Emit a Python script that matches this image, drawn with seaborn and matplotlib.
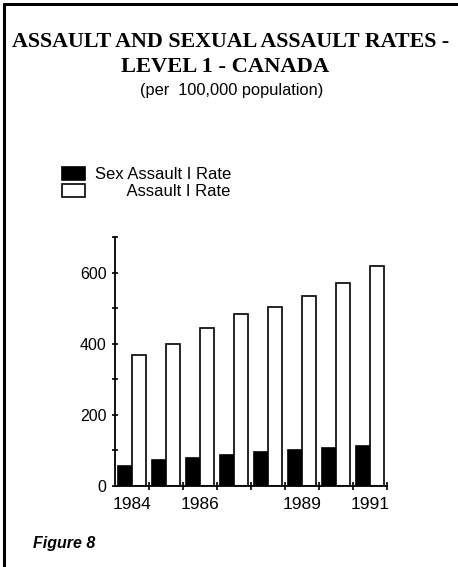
import numpy as np
import pandas as pd
import seaborn as sns
import matplotlib.pyplot as plt
from matplotlib.lines import Line2D
from matplotlib.ticker import MultipleLocator, FixedLocator

# Years and rates per 100,000 population
years = ['1984', '1985', '1986', '1987', '1988', '1989', '1990', '1991']
sex_assault_rate = [57, 72, 80, 87, 95, 102, 106, 113]
assault_rate = [367, 400, 443, 484, 502, 533, 570, 619]
series_names = ['Sex Assault I Rate', 'Assault I Rate']
shown_years = ['1984', '1986', '1989', '1991']

df = pd.DataFrame({
    'year': years * 2,
    'rate': sex_assault_rate + assault_rate,
    'series': [series_names[0]] * len(years) + [series_names[1]] * len(years),
})

sns.set_style('white')
plt.rcParams['font.family'] = ['Liberation Sans', 'DejaVu Sans']
plt.rcParams['text.color'] = 'black'
plt.rcParams['xtick.color'] = 'black'
plt.rcParams['ytick.color'] = 'black'

fig = plt.figure(figsize=(4.58, 5.67), dpi=100)
ax = fig.add_axes([0.2511, 0.1429, 0.5939, 0.4392])

sns.barplot(data=df, x='year', y='rate', hue='series', hue_order=series_names,
            palette={series_names[0]: 'black', series_names[1]: 'white'},
            edgecolor='black', linewidth=1.2, width=0.8, ax=ax)

ax.set_xlim(-0.5, len(years) - 0.5)
ax.set_ylim(0, 700)
ax.set_xlabel('')
ax.set_ylabel('')

# y axis: labelled every 200, extra ticks in between
ax.yaxis.set_major_locator(MultipleLocator(200))
ax.yaxis.set_minor_locator(MultipleLocator(100))
ax.tick_params(axis='y', which='both', direction='inout', length=4, width=1.2,
               labelsize=11.5, pad=4, left=True, colors='black')

# x axis: ticks at group boundaries, only some years labelled
pos = [years.index(y) for y in shown_years]
ax.xaxis.set_major_locator(FixedLocator(pos))
ax.set_xticklabels(shown_years)
ax.xaxis.set_minor_locator(FixedLocator(np.arange(len(years)) + 0.5))
ax.tick_params(axis='x', which='major', length=0, labelsize=12.5, pad=8,
               colors='black')
ax.tick_params(axis='x', which='minor', direction='inout', length=6, width=1.2,
               bottom=True, colors='black')

sns.despine(ax=ax)
for s in ['left', 'bottom']:
    ax.spines[s].set_color('black')
    ax.spines[s].set_linewidth(1.3)

# legend in the upper left, labels right aligned by padding
sns.move_legend(ax, loc='upper left', bbox_to_anchor=(0.135, 0.705),
                bbox_transform=fig.transFigure, frameon=False, title=None,
                fontsize=12, handlelength=1.4, handleheight=0.8,
                handletextpad=0.6, labelspacing=0.1, borderpad=0,
                borderaxespad=0)
leg = ax.get_legend()
leg.get_texts()[1].set_text('       ' + series_names[1])
for t in leg.get_texts():
    t.set_color('black')

# titles
fig.text(0.503, 0.926, 'ASSAULT AND SEXUAL ASSAULT RATES -', ha='center',
         va='center', fontsize=15.8, fontweight='bold', family='Liberation Serif')
fig.text(0.492, 0.882, 'LEVEL 1 - CANADA', ha='center', va='center',
         fontsize=16.2, fontweight='bold', family='Liberation Serif')
fig.text(0.506, 0.841, '(per  100,000 population)', ha='center', va='center',
         fontsize=11.8)
fig.text(0.072, 0.042, 'Figure 8', ha='left', va='center', fontsize=11.5,
         fontweight='bold', fontstyle='italic')

# frame lines on the top and left edge
fig.add_artist(Line2D([0.008, 1.0], [0.993, 0.993], color='black', lw=2.2,
                      transform=fig.transFigure))
fig.add_artist(Line2D([0.008, 0.008], [0.0, 0.993], color='black', lw=2.2,
                      transform=fig.transFigure))

fig.savefig('out.png', dpi=100)
